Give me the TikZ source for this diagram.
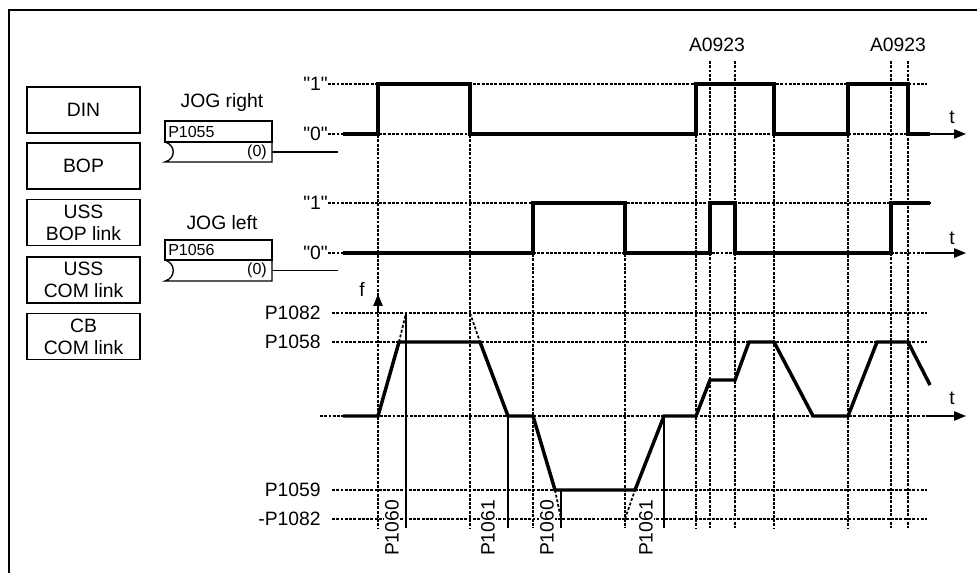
\documentclass[tikz,border=0pt]{standalone}
\usepackage{fontspec}
\setmainfont{Liberation Sans}[Ligatures=TeXOff]
\usetikzlibrary{arrows.meta}
\begin{document}
\begin{tikzpicture}[x=0.75pt,y=-0.75pt,
  every node/.style={font=\fontsize{14.5}{16.5}\selectfont, inner sep=0pt},
  srcbox/.style={draw, line width=1pt, minimum width=84.75pt, minimum height=34.5pt, align=center},
  gridln/.style={line width=1.9pt, dash pattern=on 2.2pt off 1pt},
  sig/.style={line width=2.6pt},
  ext/.style={line width=1.3pt, dash pattern=on 2.2pt off 1.4pt},
  marker/.style={line width=1.1pt},
  boxln/.style={line width=1pt},
  axis/.style={line width=1.1pt, -{Triangle[length=9pt,width=7pt]}},
  small/.style={font=\fontsize{12}{14}\selectfont},
  plabel/.style={rotate=90, fill=white, inner sep=1pt}
]
\useasboundingbox (0,0) rectangle (977,573);
% frame
\draw[line width=2pt] (9,573) -- (9,10) -- (977,10);
% sources
\node[srcbox] (din) at (83.5,110) {DIN};
\node[srcbox] (bop) at (83.5,166) {BOP};
\node[srcbox] (ussbop) at (83.5,222.5) {USS\\BOP link};
\node[srcbox] (usscom) at (83.5,280) {USS\\COM link};
\node[srcbox] (cbcom) at (83.5,336.5) {CB\\COM link};
% JOG right parameter block
\node (jogr) at (222,103) {JOG right};
\draw[boxln] (165,121) rectangle (272,142);
\node[small, anchor=west] (p1055) at (168,131.5) {P1055};
\draw[boxln] (165,142) .. controls (176,145) and (176,159) .. (165,162) -- (272,162) -- (272,142);
\node[small, anchor=east] (jr0) at (267,152) {(0)};
\coordinate (jrout) at (272,152);
\coordinate (jrend) at (338,152);
\draw[boxln] (jrout) -- (jrend);
% JOG left parameter block
\node (jogl) at (222,223) {JOG left};
\draw[boxln] (165,240) rectangle (272,260);
\node[small, anchor=west] (p1056) at (168,250) {P1056};
\draw[boxln] (165,260) .. controls (176,263) and (176,278) .. (165,281) -- (272,281) -- (272,260);
\node[small, anchor=east] (jl0) at (267,270.5) {(0)};
\coordinate (jlout) at (272,270.5);
\coordinate (jlend) at (338,270.5);
\draw[boxln] (jlout) -- (jlend);
% level labels
\node[anchor=east] (r1h) at (328,84) {"1"};
\node[anchor=east] (r1l) at (328,134) {"0"};
\node[anchor=east] (r2h) at (328,203) {"1"};
\node[anchor=east] (r2l) at (328,253) {"0"};
\node[anchor=east] (fmax) at (321,313) {P1082};
\node[anchor=east] (fjr) at (321,342) {P1058};
\node[anchor=east] (fjl) at (321,490) {P1059};
\node[anchor=east] (fmin) at (321,519) {-P1082};
% horizontal grid
\draw[gridln] (328,84) -- (927,84);
\draw[gridln] (328,134) -- (927,134);
\draw[gridln] (328,203) -- (930,203);
\draw[gridln] (328,253) -- (930,253);
\draw[gridln] (332,313) -- (927,313);
\draw[gridln] (332,342) -- (927,342);
\draw[gridln] (320,416) -- (927,416);
\draw[gridln] (332,490) -- (927,490);
\draw[gridln] (332,519) -- (927,519);
% vertical grid
\foreach \x/\y in {378/84, 470/84, 533/203, 625/203, 696/84, 710/61, 735/61, 774/84, 848/84, 891/61, 908/61}
  \draw[gridln] (\x,\y) -- (\x,528);
% axes
\coordinate (t1a) at (927,134); \coordinate (t1b) at (966,134);
\coordinate (t2a) at (927,253); \coordinate (t2b) at (966,253);
\coordinate (t3a) at (927,416); \coordinate (t3b) at (966,416);
\coordinate (fa) at (378,312); \coordinate (fb) at (378,294);
\draw[axis] (t1a) -- (t1b);
\draw[axis] (t2a) -- (t2b);
\draw[axis] (t3a) -- (t3b);
\draw[axis] (fa) -- (fb);
\node (t1) at (952,117) {t};
\node (t2) at (952,238) {t};
\node (t3) at (952,398) {t};
\node (f) at (362,290) {f};
\node (a1) at (717,45) {A0923};
\node (a2) at (898,45) {A0923};
% ramp time labels
\node[plabel] (l1) at (392,528) {P1060};
\node[plabel] (l2) at (488,528) {P1061};
\node[plabel] (l3) at (547,528) {P1060};
\node[plabel] (l4) at (646,528) {P1061};
% ramp markers
\draw[marker] (406,313) -- (406,528);
\draw[marker] (508,416) -- (508,528);
\draw[marker] (561,490) -- (561,528);
\draw[marker] (664,416) -- (664,528);
% signals
\draw[sig] (343,134) -- (378,134) -- (378,84) -- (470,84) -- (470,134) -- (696,134) -- (696,84) -- (774,84) -- (774,134) -- (848,134) -- (848,84) -- (908,84) -- (908,134) -- (930,134);
\draw[sig] (343,253) -- (533,253) -- (533,203) -- (625,203) -- (625,253) -- (710,253) -- (710,203) -- (735,203) -- (735,253) -- (891,253) -- (891,203) -- (930,203);
\draw[sig] (343,416) -- (378,416) -- (399,342) -- (480,342) -- (508,416) -- (533,416) -- (555,490) -- (635,490) -- (664,416) -- (696,416) -- (710,380) -- (735,380) -- (749,342) -- (774,342) -- (813,416) -- (848,416) -- (877,342) -- (908,342) -- (930,385);
% ramp extensions
\draw[ext] (399,342) -- (406,313);
\draw[ext] (470,313) -- (480,342);
\draw[ext] (555,490) -- (561,519);
\draw[ext] (625,519) -- (635,490);
\end{tikzpicture}
\end{document}
